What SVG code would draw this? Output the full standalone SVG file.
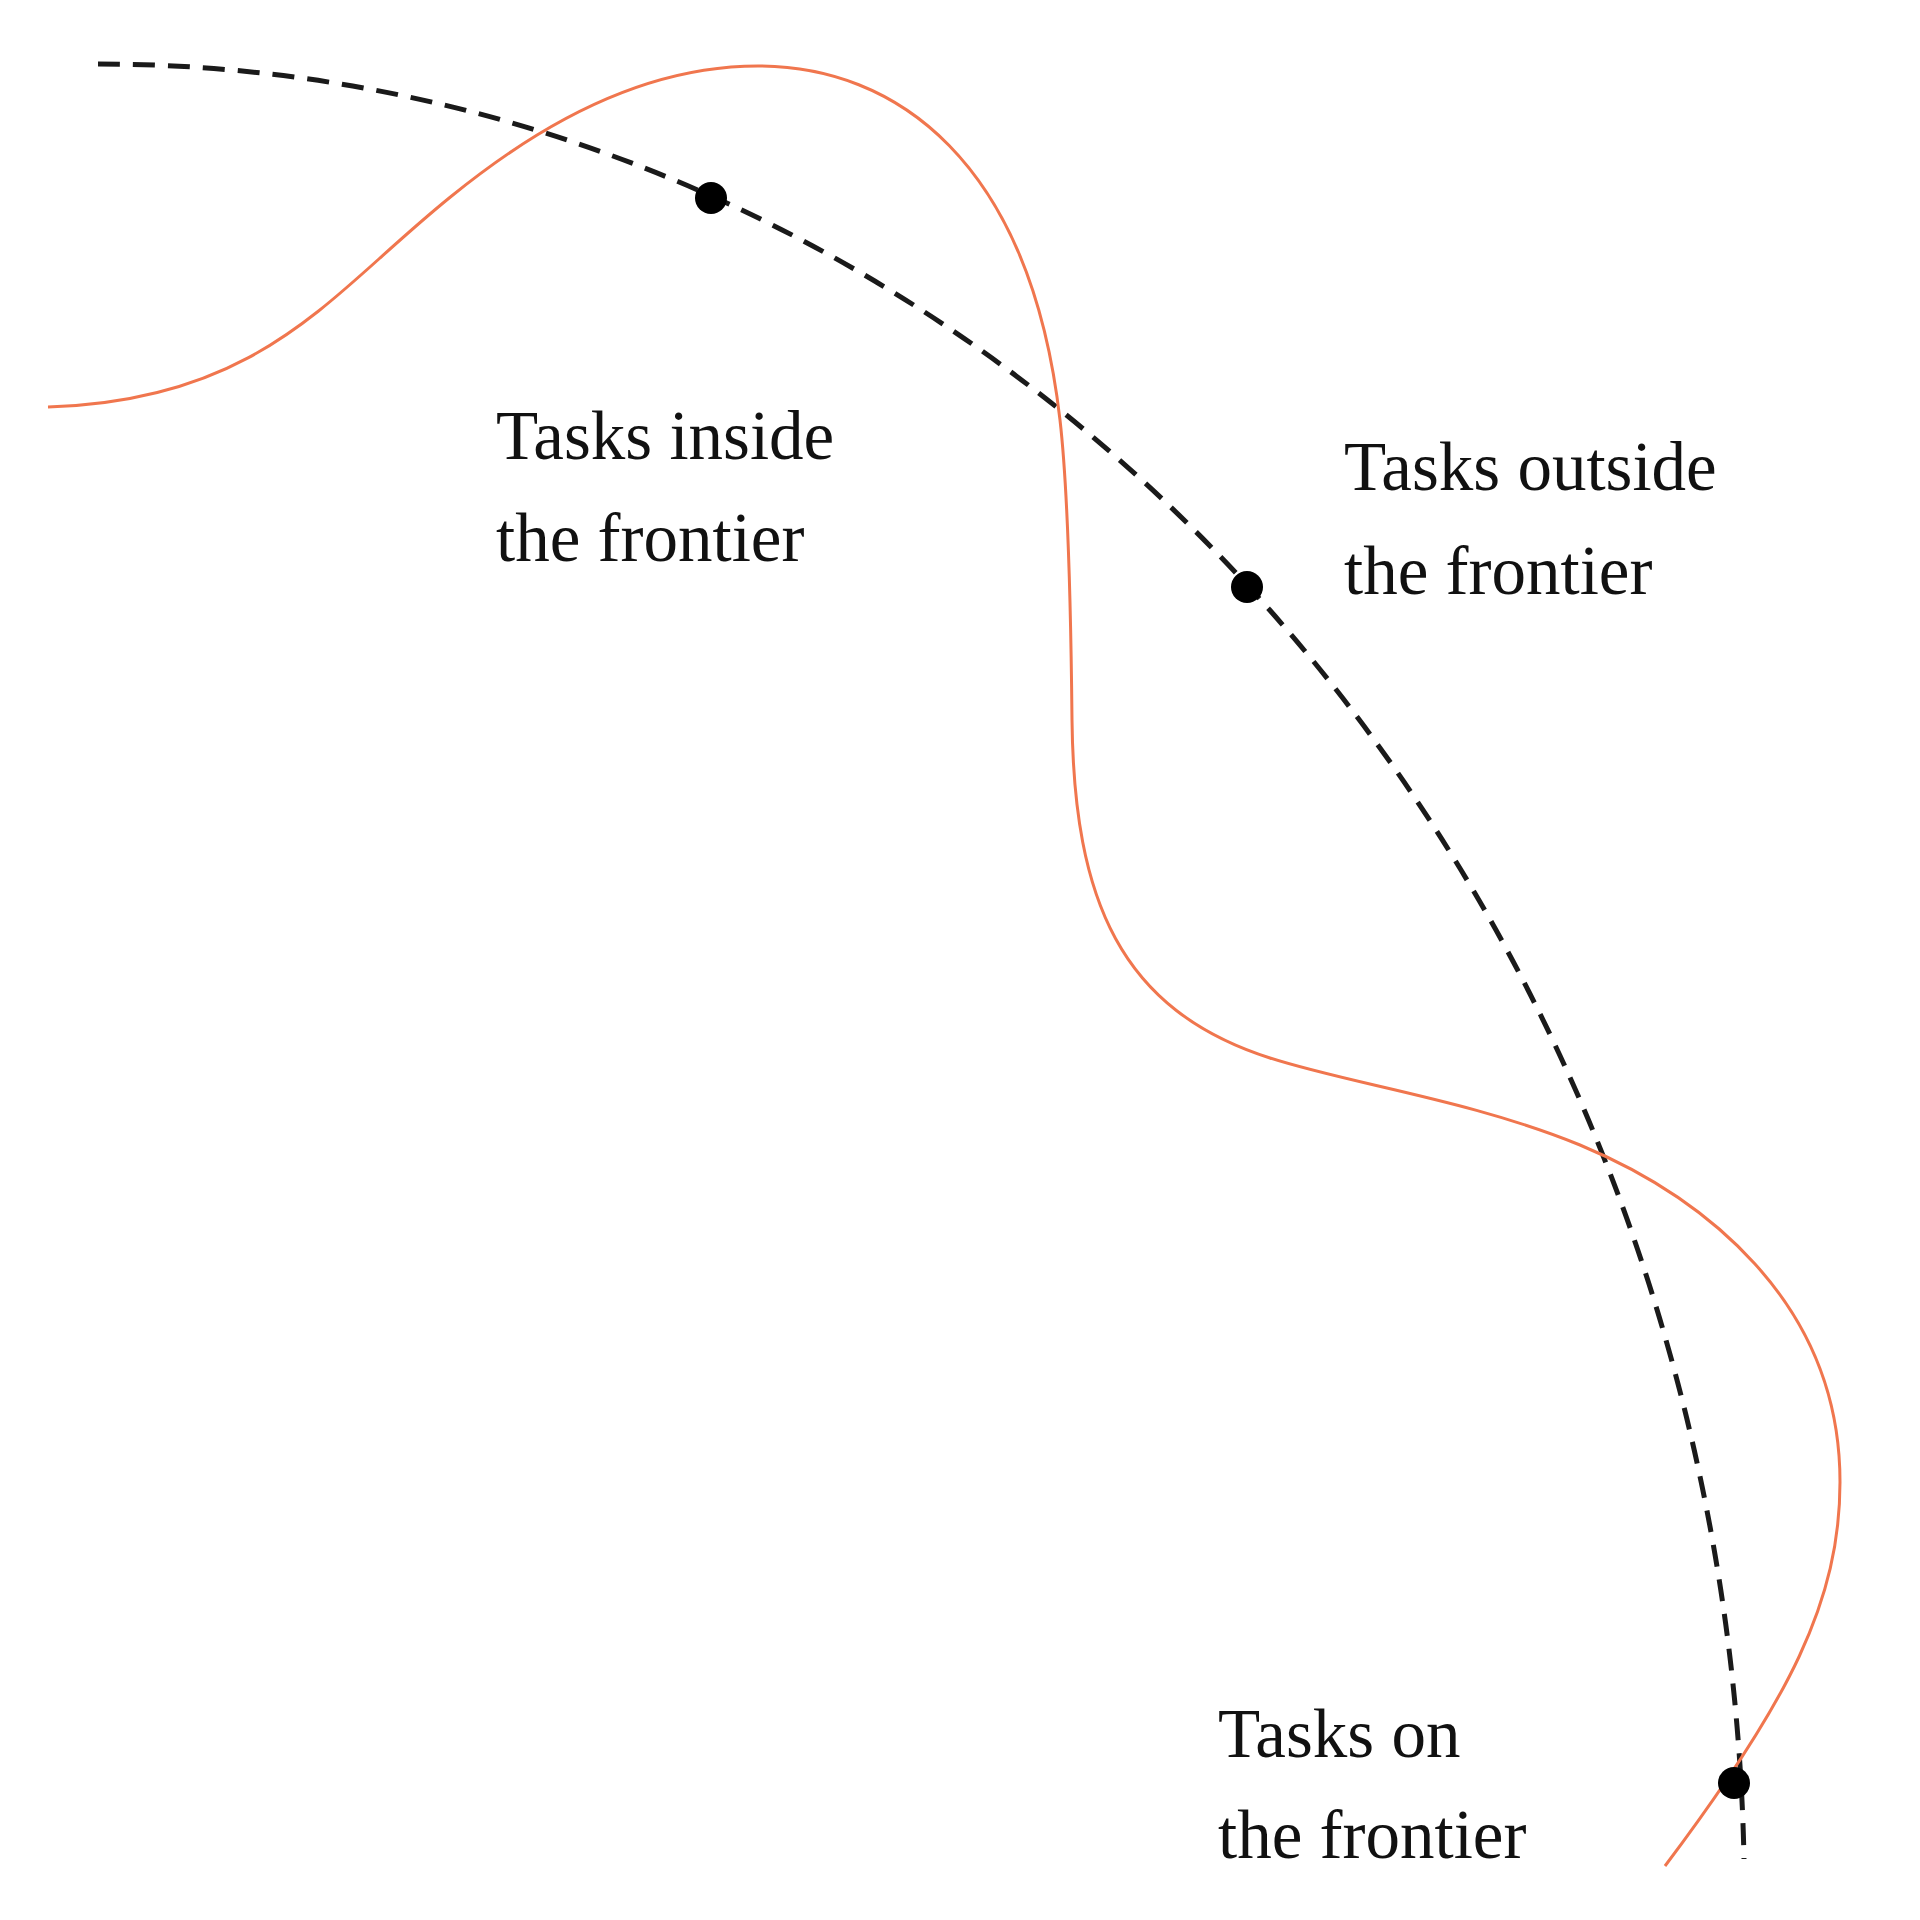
<svg xmlns="http://www.w3.org/2000/svg" width="1920" height="1920" viewBox="0 0 1920 1920">
<style>
.frontier{fill:none;stroke:#1a1a1a;stroke-width:5;stroke-dasharray:22 13}
.task{fill:none;stroke:#F0764E;stroke-width:3}
.dot{fill:#000}
.lbl{font-family:"Liberation Serif","Times New Roman",serif;font-size:69px;fill:#111}
</style>
<rect width="1920" height="1920" fill="#fff"/>
<g id="connectors">
<path id="frontier" class="frontier" d="M98,64 A1646,1836 0 0 1 1744,1859"/>
<path id="capability" class="task" d="M48,407 C220,402 300,330 380,258 C460,186 593,66 758,66 C895,66 1030,160 1060,420 C1068,490 1071,620 1072,720 C1074,900 1120,1010 1270,1058 C1350,1084 1470,1100 1580,1145 C1700,1195 1840,1300 1840,1482 C1840,1600 1790,1700 1665,1866"/>
</g>
<g id="node-inside">
<circle class="dot" cx="711" cy="198" r="16"/>
<text class="lbl" x="496" y="459">Tasks inside</text>
<text class="lbl" x="496" y="561">the frontier</text>
</g>
<g id="node-outside">
<circle class="dot" cx="1247" cy="587" r="16"/>
<text class="lbl" x="1344" y="490">Tasks outside</text>
<text class="lbl" x="1344" y="594">the frontier</text>
</g>
<g id="node-on">
<circle class="dot" cx="1734" cy="1783" r="16"/>
<text class="lbl" x="1218" y="1757">Tasks on</text>
<text class="lbl" x="1218" y="1858">the frontier</text>
</g>
</svg>
